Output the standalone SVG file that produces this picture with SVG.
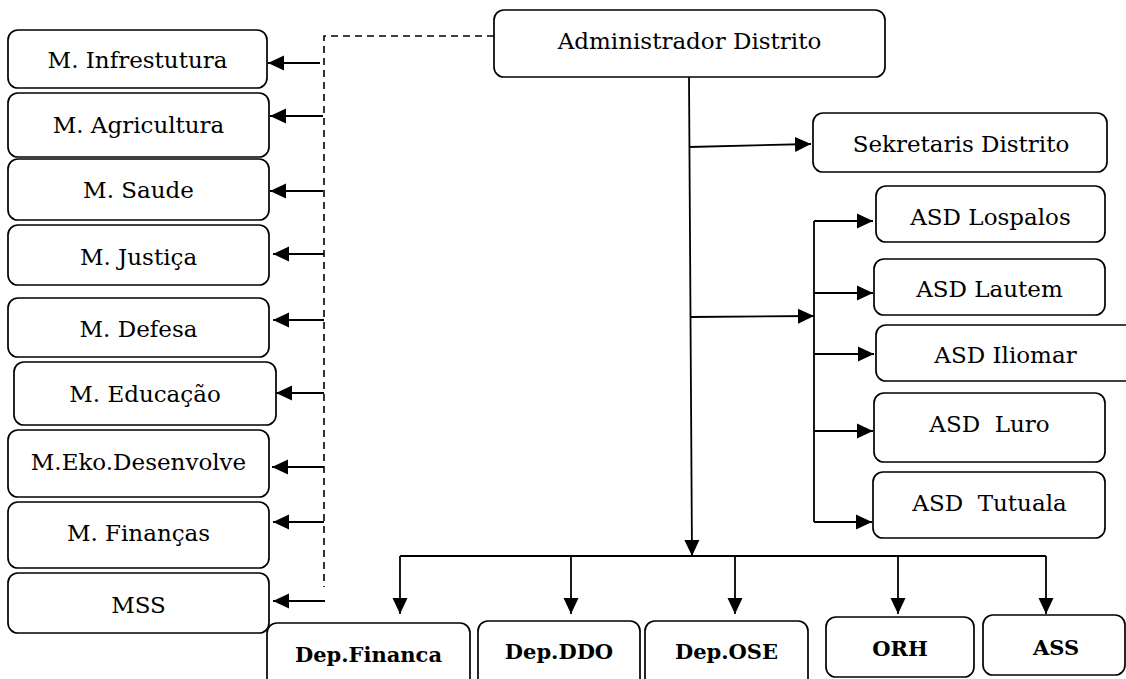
<svg xmlns="http://www.w3.org/2000/svg" width="1126" height="679" viewBox="0 0 1126 679">
<style>
.box{fill:#fff;stroke:#000;stroke-width:1.7}
text{font-family:'DejaVu Serif','Liberation Serif',serif;fill:#000;text-anchor:middle}
.t{font-size:23px}
.b{font-size:21px;font-weight:bold}
.ln{fill:none;stroke:#000;stroke-width:1.8}
.ar{fill:none;stroke:#000;stroke-width:1.8;marker-end:url(#ah)}
.dash{fill:none;stroke:#000;stroke-width:1.6;stroke-dasharray:7 5}
</style>
<defs>
<marker id="ah" markerUnits="userSpaceOnUse" markerWidth="16" markerHeight="16" refX="16" refY="8" orient="auto">
<path d="M0,0.5 L16,8 L0,15.5 z" fill="#000"/>
</marker>
</defs>
<rect width="1126" height="679" fill="#fff"/>
<g id="connectors">
<path class="dash" d="M494,36 H324 V587"/>
<path class="ar" d="M320,63 H268"/>
<path class="ar" d="M323,116 H270"/>
<path class="ar" d="M323,191 H270"/>
<path class="ar" d="M324,254 H273"/>
<path class="ar" d="M324,320 H273"/>
<path class="ar" d="M324,393 H276"/>
<path class="ar" d="M324,467 H272"/>
<path class="ar" d="M324,522 H273"/>
<path class="ar" d="M325,601 H273"/>
<path class="ar" d="M689,77 L692,556"/>
<path class="ar" d="M689,147 L811,144"/>
<path class="ar" d="M691,317 L814,316"/>
<path class="ln" d="M814,221 V522"/>
<path class="ar" d="M814,221 H873"/>
<path class="ar" d="M814,293 H873"/>
<path class="ar" d="M814,354 H874"/>
<path class="ar" d="M814,431 H873"/>
<path class="ar" d="M814,522 H872"/>
<path class="ln" d="M400,556 H1046"/>
<path class="ar" d="M400,556 V614"/>
<path class="ar" d="M571,556 V614"/>
<path class="ar" d="M735,556 V614"/>
<path class="ar" d="M898,556 V614"/>
<path class="ar" d="M1046,556 V614"/>
</g>
<g id="admin"><rect class="box" x="494" y="10" width="391" height="67" rx="10"/><text class="t" x="689.5" y="49">Administrador Distrito</text></g>
<g id="m-infrestutura"><rect class="box" x="8" y="30" width="259" height="58" rx="10"/><text class="t" x="137.5" y="68">M. Infrestutura</text></g>
<g id="m-agricultura"><rect class="box" x="8" y="93" width="261" height="64" rx="10"/><text class="t" x="138.5" y="133">M. Agricultura</text></g>
<g id="m-saude"><rect class="box" x="8" y="159" width="261" height="61" rx="10"/><text class="t" x="138.5" y="198">M. Saude</text></g>
<g id="m-justica"><rect class="box" x="8" y="225" width="261" height="60" rx="10"/><text class="t" x="138.5" y="265">M. Justiça</text></g>
<g id="m-defesa"><rect class="box" x="8" y="298" width="261" height="59" rx="10"/><text class="t" x="138.5" y="337">M. Defesa</text></g>
<g id="m-educacao"><rect class="box" x="14" y="362" width="262" height="63" rx="10"/><text class="t" x="145" y="402">M. Educação</text></g>
<g id="m-eko"><rect class="box" x="8" y="430" width="261" height="67" rx="10"/><text class="t" x="138.5" y="470">M.Eko.Desenvolve</text></g>
<g id="m-financas"><rect class="box" x="8" y="502" width="261" height="66" rx="10"/><text class="t" x="138.5" y="541">M. Finanças</text></g>
<g id="mss"><rect class="box" x="8" y="573" width="261" height="60" rx="10"/><text class="t" x="138.5" y="613">MSS</text></g>
<g id="sekretaris"><rect class="box" x="813" y="113" width="294" height="59" rx="10"/><text class="t" x="961" y="152">Sekretaris Distrito</text></g>
<g id="asd-lospalos"><rect class="box" x="876" y="186" width="229" height="56" rx="10"/><text class="t" x="990.5" y="225">ASD Lospalos</text></g>
<g id="asd-lautem"><rect class="box" x="874" y="259" width="231" height="56" rx="10"/><text class="t" x="989.5" y="297">ASD Lautem</text></g>
<g id="asd-iliomar"><rect class="box" x="876" y="325" width="264" height="56" rx="10"/><text class="t" x="1005.5" y="363">ASD Iliomar</text></g>
<g id="asd-luro"><rect class="box" x="874" y="393" width="231" height="69" rx="10"/><text class="t" x="989.5" y="432" xml:space="preserve">ASD  Luro</text></g>
<g id="asd-tutuala"><rect class="box" x="873" y="472" width="232" height="66" rx="10"/><text class="t" x="989.5" y="511" xml:space="preserve">ASD  Tutuala</text></g>
<g id="dep-financa"><rect class="box" x="267" y="623" width="203" height="70" rx="10"/><text class="b" x="368.5" y="662">Dep.Financa</text></g>
<g id="dep-ddo"><rect class="box" x="478" y="621" width="162" height="72" rx="10"/><text class="b" x="559" y="659">Dep.DDO</text></g>
<g id="dep-ose"><rect class="box" x="645" y="621" width="163" height="72" rx="10"/><text class="b" x="726.5" y="659">Dep.OSE</text></g>
<g id="orh"><rect class="box" x="826" y="617" width="148" height="60" rx="10"/><text class="b" x="900" y="656">ORH</text></g>
<g id="ass"><rect class="box" x="983" y="615" width="142" height="60" rx="10"/><text class="b" x="1056" y="655">ASS</text></g>
</svg>
